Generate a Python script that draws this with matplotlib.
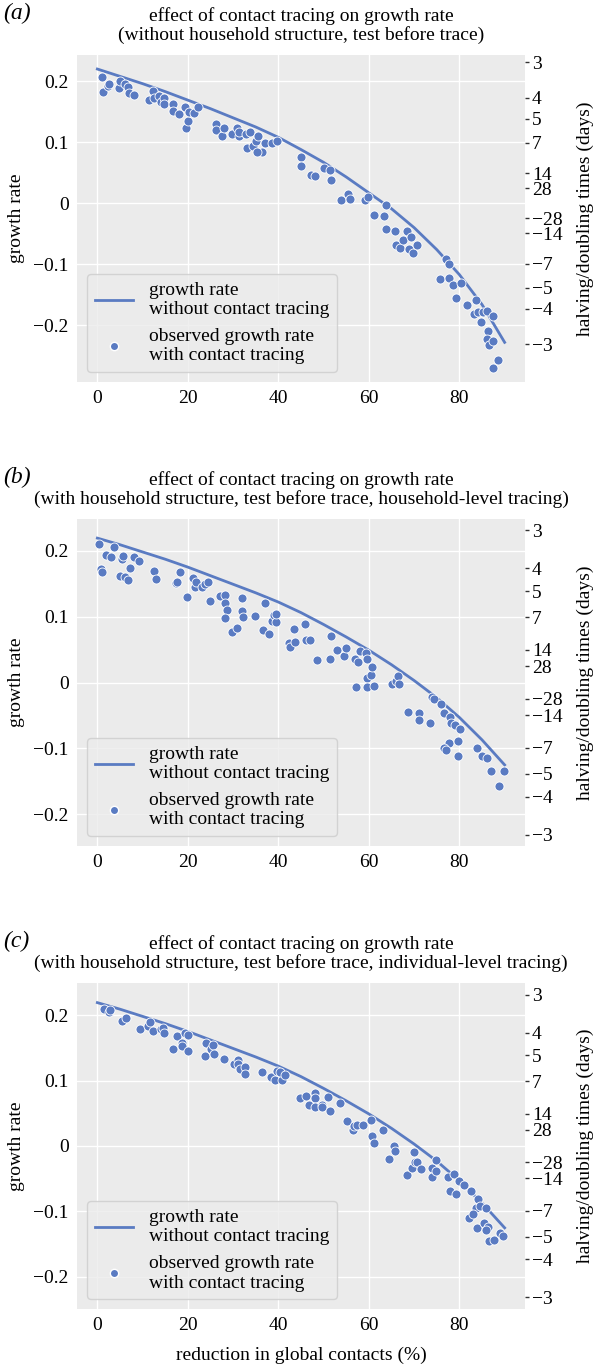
import numpy as np
import matplotlib
matplotlib.use("Agg")
import matplotlib.pyplot as plt
from matplotlib.lines import Line2D

plt.rcParams['font.family'] = ['Liberation Serif', 'DejaVu Serif']

# growth rate without contact tracing
line_x = [0, 5, 10, 15, 20, 25, 30, 35, 40, 45, 50, 55, 60, 65, 70, 75, 80, 85, 90]
line_a = [0.220, 0.208, 0.196, 0.183, 0.169, 0.155, 0.140, 0.125, 0.108, 0.088,
          0.067, 0.043, 0.017, -0.009, -0.040, -0.076, -0.117, -0.166, -0.228]
line_bc = [0.219, 0.209, 0.198, 0.187, 0.175, 0.162, 0.149, 0.136, 0.122, 0.106,
           0.088, 0.069, 0.049, 0.027, 0.003, -0.023, -0.053, -0.087, -0.125]

# observed growth rate with contact tracing, panel (a)
pts_a_x = [1.1, 1.3, 2.4, 2.6, 4.7, 5.1, 6.1, 6.8, 7.1, 8.0,
           11.5, 12.4, 12.6, 13.6, 14.1, 14.7, 14.8, 16.7, 16.7, 18.0,
           19.3, 19.5, 20.0, 20.2, 21.3, 22.2,
           26.3, 26.3, 27.5, 28.0, 29.8, 30.8, 31.3, 31.3, 32.9, 33.7,
           33.0, 34.4, 35.1, 35.6, 36.3, 35.2, 37.0, 38.6, 39.7,
           45.0, 44.9, 47.1, 48.2, 50.0, 51.3, 51.7,
           53.9, 55.3, 55.9, 59.2, 59.7, 61.1, 63.3, 63.7, 63.7,
           65.8, 66.1, 66.9, 67.6, 68.4, 68.9, 69.3, 69.8, 70.7,
           77.0, 77.6, 75.8, 77.8, 78.6, 80.4, 79.2, 81.6, 83.7,
           83.3, 84.1, 84.7, 85.2, 86.1, 87.4, 86.4, 86.1, 86.5, 87.4, 88.5, 87.4]
pts_a_y = [0.207, 0.182, 0.192, 0.195, 0.189, 0.200, 0.196, 0.190, 0.180, 0.178,
           0.170, 0.184, 0.172, 0.176, 0.166, 0.173, 0.162, 0.162, 0.152, 0.147,
           0.158, 0.123, 0.135, 0.150, 0.148, 0.158,
           0.130, 0.120, 0.110, 0.123, 0.114, 0.124, 0.110, 0.116, 0.114, 0.116,
           0.090, 0.094, 0.102, 0.111, 0.084, 0.084, 0.099, 0.098, 0.102,
           0.075, 0.061, 0.047, 0.044, 0.057, 0.055, 0.038,
           0.006, 0.015, 0.007, 0.005, 0.010, -0.019, -0.021, -0.043, -0.003,
           -0.046, -0.069, -0.073, -0.061, -0.046, -0.075, -0.055, -0.081, -0.069,
           -0.091, -0.100, -0.124, -0.122, -0.134, -0.131, -0.156, -0.167, -0.159,
           -0.182, -0.178, -0.195, -0.178, -0.177, -0.185, -0.209, -0.222, -0.233, -0.226, -0.257, -0.270]

# panel (b)
pts_b_x = [0.4, 0.9, 1.1, 1.8, 3.1, 3.7, 5.1, 5.5, 5.7, 6.2, 6.8, 7.3, 8.0, 9.3,
           12.6, 13.0, 17.4, 17.5, 18.3, 19.8, 21.1, 21.5, 21.8, 23.2, 23.8, 24.5, 24.8,
           27.0, 28.2, 28.2, 28.6, 28.2, 29.8, 30.9, 31.9, 32.0, 32.2, 34.9, 36.6, 37.0,
           38.0, 38.5, 39.0, 39.5, 39.5,
           42.3, 42.6, 43.4, 43.7, 45.8, 46.1, 47.0, 48.5, 51.4, 51.6,
           52.9, 54.6, 54.9, 57.0, 57.1, 57.6, 58.0, 59.3, 59.6, 59.5, 59.5, 60.4, 60.8, 61.2,
           65.1, 65.9, 66.5, 66.7, 68.6, 71.0, 71.0, 73.4, 74.0, 74.5, 76.0, 76.6, 78.0,
           78.2, 79.1, 80.2, 77.8, 76.5, 77.1, 79.6, 79.6, 83.9, 85.0, 86.0, 87.0, 88.8, 89.8]
pts_b_y = [0.210, 0.172, 0.168, 0.193, 0.191, 0.206, 0.162, 0.188, 0.192, 0.160, 0.156, 0.174, 0.191, 0.185,
           0.169, 0.157, 0.151, 0.153, 0.168, 0.130, 0.158, 0.145, 0.152, 0.145, 0.150, 0.153, 0.124,
           0.131, 0.133, 0.121, 0.110, 0.098, 0.077, 0.083, 0.128, 0.109, 0.099, 0.101, 0.079, 0.121,
           0.074, 0.094, 0.103, 0.092, 0.104,
           0.060, 0.054, 0.081, 0.061, 0.088, 0.065, 0.064, 0.034, 0.036, 0.071,
           0.049, 0.040, 0.052, 0.036, -0.007, 0.031, 0.048, 0.045, 0.036, 0.007, -0.007, 0.011, 0.023, -0.006,
           -0.002, 0.003, 0.010, -0.002, -0.044, -0.046, -0.057, -0.061, -0.022, -0.025, -0.033, -0.047, -0.053,
           -0.062, -0.064, -0.070, -0.092, -0.100, -0.102, -0.088, -0.111, -0.100, -0.112, -0.115, -0.134, -0.157, -0.134]

# panel (c)
pts_c_x = [1.4, 2.6, 2.7, 5.5, 6.4, 9.5, 11.3, 11.6, 12.2, 14.1, 14.4, 14.8, 16.8, 17.5,
           18.7, 18.7, 19.3, 20.1, 20.1, 23.8, 24.0, 25.2, 25.6, 25.8, 28.0, 30.2, 31.1, 31.1,
           31.6, 32.7, 32.6, 36.3, 38.4, 39.3, 40.8, 39.8, 40.4, 41.5,
           44.8, 46.1, 46.8, 48.1, 48.1, 48.1, 49.6, 49.6, 50.9, 51.4, 53.6, 55.1, 56.6, 56.8,
           57.4, 58.6, 60.4, 60.8, 61.1, 63.1, 64.5, 65.6, 65.7, 68.4, 69.5, 70.0, 70.1, 70.7,
           71.6, 74.0, 74.0, 74.9, 74.9, 77.4, 78.8,
           77.9, 79.2, 80.0, 81.0, 82.5, 84.2, 83.6, 84.6, 85.9, 82.1, 82.9, 84.0, 85.5,
           86.3, 85.9, 86.6, 87.7, 89.0, 89.7]
pts_c_y = [0.210, 0.204, 0.207, 0.191, 0.196, 0.179, 0.184, 0.189, 0.175, 0.179, 0.181, 0.172, 0.148, 0.168,
           0.158, 0.152, 0.172, 0.169, 0.145, 0.138, 0.158, 0.148, 0.155, 0.140, 0.133, 0.125, 0.131, 0.125,
           0.118, 0.121, 0.110, 0.113, 0.105, 0.101, 0.101, 0.115, 0.113, 0.109,
           0.073, 0.076, 0.062, 0.081, 0.073, 0.060, 0.063, 0.060, 0.075, 0.053, 0.065, 0.038, 0.025, 0.031,
           0.032, 0.032, 0.040, 0.016, 0.005, 0.024, -0.020, 0.000, -0.008, -0.044, -0.033, -0.009, -0.024, -0.025,
           -0.035, -0.033, -0.048, -0.021, -0.038, -0.048, -0.043,
           -0.068, -0.074, -0.053, -0.060, -0.069, -0.081, -0.095, -0.092, -0.094, -0.110, -0.104, -0.125, -0.118,
           -0.124, -0.128, -0.145, -0.144, -0.133, -0.137]

titles = ["effect of contact tracing on growth rate\n(without household structure, test before trace)",
          "effect of contact tracing on growth rate\n(with household structure, test before trace, household-level tracing)",
          "effect of contact tracing on growth rate\n(with household structure, test before trace, individual-level tracing)"]
panel_tags = ["(a)", "(b)", "(c)"]
days = [3, 4, 5, 7, 14, 28, -28, -14, -7, -5, -4, -3]

BLUE = '#5a7bc2'
BG = '#ebebeb'
FS = 14

fig = plt.figure(figsize=(5.97, 13.64), dpi=100)
W, H = 597, 1364
boxes = [(55, 382, (-0.293, 0.243)), (519, 846, (-0.248, 0.248)), (983, 1309, (-0.249, 0.249))]
datasets = [(line_a, pts_a_x, pts_a_y), (line_bc, pts_b_x, pts_b_y), (line_bc, pts_c_x, pts_c_y)]

for i, ((top, bot, ylim), (line_y, px, py)) in enumerate(zip(boxes, datasets)):
    ax = fig.add_axes([77 / W, 1 - bot / H, 448 / W, (bot - top) / H])
    ax.set_facecolor(BG)
    for s in ax.spines.values():
        s.set_visible(False)
    ax.grid(True, color='white', linewidth=1.0)
    ax.set_axisbelow(True)

    ax.plot(line_x, line_y, color=BLUE, linewidth=2.0, zorder=3)
    ax.scatter(px, py, s=42, color=BLUE, edgecolor='white', linewidth=0.6, zorder=4)

    ax.set_xlim(-4.5, 94.5)
    ax.set_ylim(*ylim)
    ax.set_xticks([0, 20, 40, 60, 80])
    ax.set_yticks([-0.2, -0.1, 0, 0.1, 0.2])
    ax.set_yticklabels(['\u22120.2', '\u22120.1', '0', '0.1', '0.2'])
    ax.tick_params(length=0, labelsize=FS, pad=6)
    ax.set_ylabel('growth rate', fontsize=FS, labelpad=6)
    ax.set_title(titles[i], fontsize=FS, pad=11, linespacing=1.05)
    if i == 2:
        ax.set_xlabel('reduction in global contacts (%)', fontsize=FS, labelpad=9)

    handles = [Line2D([0], [0], color=BLUE, lw=2.0),
               Line2D([0], [0], marker='o', color='none', markerfacecolor=BLUE,
                      markeredgecolor='white', markersize=6)]
    ax.legend(handles, ['growth rate\nwithout contact tracing',
                        'observed growth rate\nwith contact tracing'],
              loc='lower left', fontsize=FS, facecolor=BG, edgecolor='#cccccc',
              framealpha=0.8, handlelength=2.0, labelspacing=0.5)

    # right axis: halving / doubling times
    ax2 = ax.twinx()
    ax2.set_ylim(*ylim)
    ax2.set_yticks([np.log(2) / d for d in days])
    ax2.set_yticklabels([str(d).replace('-', '\u2212') for d in days])
    ax2.tick_params(axis='y', length=3, width=1.0, color='#333333', labelsize=FS, pad=2)
    for s in ax2.spines.values():
        s.set_visible(False)
    ax2.grid(False)
    ax2.set_ylabel('halving/doubling times (days)', fontsize=FS, labelpad=10)

    fig.text(3 / W, 1 - (top - 42) / H, panel_tags[i], fontsize=17, style='italic', va='center')

fig.savefig('out.png', dpi=100)
